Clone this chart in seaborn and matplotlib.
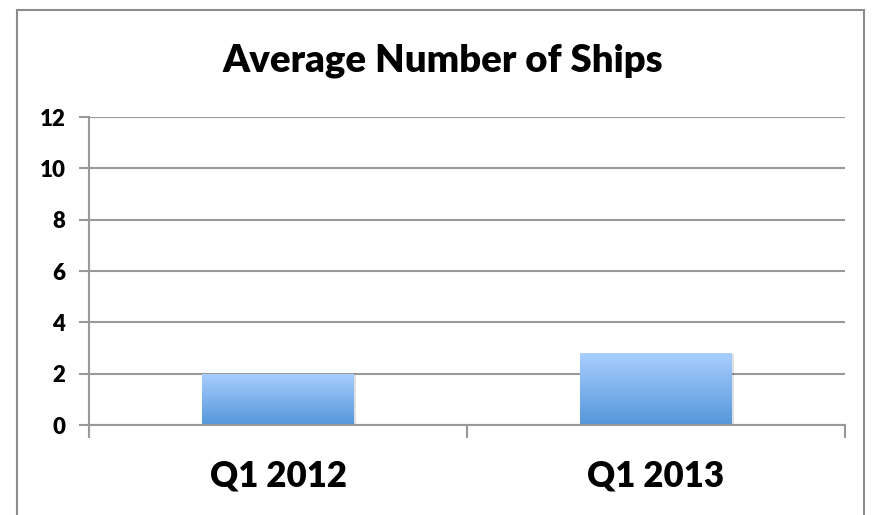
import matplotlib
matplotlib.use("Agg")
import matplotlib.pyplot as plt
import seaborn as sns
import numpy as np
import pandas as pd
from matplotlib.colors import LinearSegmentedColormap
from matplotlib.patches import Rectangle

categories = ["Q1 2012", "Q1 2013"]
values = [2.0, 2.8]
y_ticks = [0, 2, 4, 6, 8, 10, 12]
title = "Average Number of Ships"

sns.set_theme(style="white")
plt.rcParams['font.family'] = ['Lato', 'DejaVu Sans']

W, H = 874, 515
fig = plt.figure(figsize=(W / 100, H / 100), dpi=100)
ax = fig.add_axes([89 / W, 1 - 425 / H, (845 - 89) / W, (425 - 117) / H])

df = pd.DataFrame({"cat": categories, "val": values})
sns.barplot(data=df, x="cat", y="val", ax=ax, width=0.4, color="#7fb0ec", saturation=1)

ax.set_ylim(0, 12)
ax.set_xlim(-0.5, 1.5)
ax.set_yticks(y_ticks)
ax.set_yticklabels([str(t) for t in y_ticks], fontsize=16, fontweight="heavy", color="black")
ax.set_xlabel("")
ax.set_ylabel("")

grid_c = "#999999"
for t in y_ticks:
    ax.axhline(t, color=grid_c, lw=1.5, zorder=0.5)

# gradient fill for bars
cmap = LinearSegmentedColormap.from_list("g", ["#5597da", "#a9ceff"])
grad = np.linspace(0, 1, 256).reshape(-1, 1)
for p in list(ax.patches):
    x0, y0 = p.get_x(), p.get_y()
    w, h = p.get_width(), p.get_height()
    sh = Rectangle((x0 + 0.006, y0), w, h - 0.05, facecolor="#000000", alpha=0.12,
                   edgecolor="none", zorder=1.5)
    ax.add_patch(sh)
    p.set_facecolor("none")
    p.set_edgecolor("none")
    im = ax.imshow(grad, cmap=cmap, aspect="auto", extent=[x0, x0 + w, y0, y0 + h],
                   origin="lower", zorder=2)
    im.set_clip_path(p)
    p.set_zorder(2)

ax.set_xlim(-0.5, 1.5)
ax.set_ylim(0, 12)

for s in ["top", "right"]:
    ax.spines[s].set_visible(False)
ax.spines["left"].set_color(grid_c)
ax.spines["left"].set_linewidth(1.5)
ax.spines["bottom"].set_color(grid_c)
ax.spines["bottom"].set_linewidth(1.5)

ax.tick_params(axis="y", which="both", length=7, width=1.5, color=grid_c, direction="out",
               left=True, pad=10)
ax.set_xticks([0, 1])
ax.set_xticklabels(categories, fontsize=25, fontweight="heavy", color="black")
ax.tick_params(axis="x", which="major", length=0, pad=25)
ax.set_xticks([-0.5, 0.5, 1.5], minor=True)
ax.tick_params(axis="x", which="minor", length=9, width=1.5, color=grid_c, direction="out",
               bottom=True)

fig.text(443 / W, 1 - 61 / H, title, ha="center", va="center", fontsize=27.5,
         fontweight="heavy", color="black")

border = Rectangle((17 / W, -0.1), (864 - 17) / W, 1.1 - 10 / H, transform=fig.transFigure,
                   facecolor="none", edgecolor="#8c8c8c", lw=1.5, clip_on=False)
fig.patches.append(border)

fig.savefig("out.png", dpi=100)
